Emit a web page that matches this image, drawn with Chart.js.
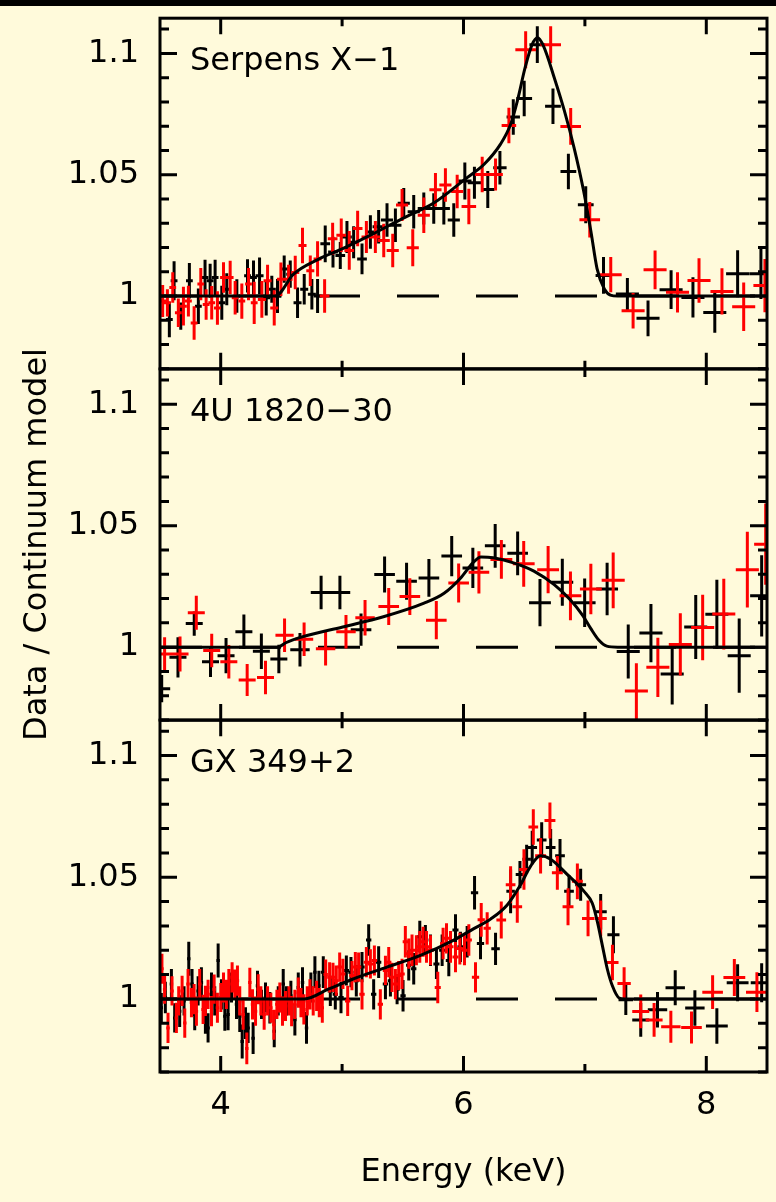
<!DOCTYPE html>
<html>
<head>
<meta charset="utf-8">
<script src="https://cdn.jsdelivr.net/npm/chart.js@4.4.1/dist/chart.umd.min.js"></script>
<style>
  html, body { margin: 0; padding: 0; background: #fffadb; }
  #page { position: relative; width: 776px; height: 1202px; background: #fffadb; overflow: hidden; }
  #topbar { position: absolute; left: 0; top: 0; width: 776px; height: 6px; background: #000; z-index: 5; }
  canvas { position: absolute; left: 0; }
</style>
</head>
<body>
<div id="page">
  <div id="topbar"></div>
  <canvas id="p1" width="776" height="431" style="top:-22px;width:776px;height:431px"></canvas>
  <canvas id="p2" width="776" height="691" style="top:199px;width:776px;height:691px"></canvas>
  <canvas id="p3" width="776" height="522" style="top:680px;width:776px;height:522px"></canvas>
</div>
<script>
// axis setup
const xRange = [3.5, 8.5];
const yRange = [0.97, 1.1145];
const xTickValues = [4, 6, 8];
const xTickLabels = ["4", "6", "8"];
const xMinorValues = [5, 7];
const yTickValues = [1, 1.05, 1.1];
const yTickLabels = ["1", "1.05", "1.1"];
const sourceNames = ["Serpens X\u22121", "4U 1820\u221230", "GX 349+2"];

// rows: [energy keV, ratio, half bin width, 1 sigma]
const serpensBlack = [
  [3.577, 0.9903, 0.028, 0.0073], [3.616, 1.0063, 0.028, 0.0080], [3.671, 0.9917, 0.028, 0.0056],
  [3.742, 1.0063, 0.028, 0.0073], [3.816, 0.9958, 0.028, 0.0073], [3.871, 1.0076, 0.028, 0.0073],
  [3.913, 1.0063, 0.028, 0.0070], [3.954, 1.0076, 0.028, 0.0073], [4.009, 0.9972, 0.028, 0.0070],
  [4.050, 1.0028, 0.028, 0.0066], [4.133, 1.0000, 0.028, 0.0069], [4.221, 1.0083, 0.028, 0.0069],
  [4.270, 1.0076, 0.028, 0.0070], [4.320, 1.0083, 0.033, 0.0076], [4.375, 0.9993, 0.033, 0.0073],
  [4.421, 1.0028, 0.033, 0.0056], [4.468, 1.0000, 0.033, 0.0070], [4.523, 1.0111, 0.033, 0.0056],
  [4.573, 1.0090, 0.033, 0.0056], [4.633, 0.9972, 0.033, 0.0063], [4.688, 1.0028, 0.033, 0.0063],
  [4.751, 1.0007, 0.033, 0.0063], [4.798, 1.0000, 0.033, 0.0070], [4.861, 1.0215, 0.040, 0.0076],
  [4.925, 1.0181, 0.040, 0.0063], [4.985, 1.0167, 0.040, 0.0056], [5.040, 1.0243, 0.040, 0.0066],
  [5.095, 1.0222, 0.040, 0.0066], [5.164, 1.0153, 0.040, 0.0063], [5.233, 1.0264, 0.040, 0.0069],
  [5.301, 1.0285, 0.050, 0.0069], [5.370, 1.0313, 0.050, 0.0069], [5.439, 1.0292, 0.050, 0.0069],
  [5.508, 1.0382, 0.050, 0.0063], [5.590, 1.0347, 0.050, 0.0069], [5.673, 1.0361, 0.050, 0.0066],
  [5.755, 1.0361, 0.050, 0.0063], [5.838, 1.0361, 0.050, 0.0066], [5.920, 1.0313, 0.050, 0.0069],
  [6.011, 1.0474, 0.055, 0.0076], [6.090, 1.0467, 0.055, 0.0066], [6.200, 1.0439, 0.055, 0.0076],
  [6.300, 1.0529, 0.055, 0.0069], [6.410, 1.0738, 0.055, 0.0073], [6.500, 1.0814, 0.065, 0.0073],
  [6.608, 1.1036, 0.065, 0.0076], [6.737, 1.0782, 0.065, 0.0073], [6.864, 1.0513, 0.065, 0.0073],
  [7.007, 1.0376, 0.065, 0.0076], [7.153, 1.0085, 0.065, 0.0076], [7.350, 1.0008, 0.095, 0.0066],
  [7.520, 0.9908, 0.095, 0.0074], [7.710, 1.0026, 0.095, 0.0080], [7.890, 0.9994, 0.095, 0.0083],
  [8.070, 0.9932, 0.095, 0.0083], [8.258, 1.0092, 0.095, 0.0097], [8.450, 1.0092, 0.095, 0.0104]
];
const serpensRed = [
  [3.522, 0.9979, 0.028, 0.0066], [3.561, 0.9972, 0.028, 0.0056], [3.605, 1.0035, 0.028, 0.0063],
  [3.651, 0.9931, 0.028, 0.0059], [3.693, 0.9958, 0.028, 0.0080], [3.734, 0.9979, 0.028, 0.0063],
  [3.781, 0.9889, 0.028, 0.0069], [3.836, 1.0049, 0.028, 0.0066], [3.880, 0.9965, 0.028, 0.0063],
  [3.926, 0.9972, 0.028, 0.0069], [3.973, 0.9951, 0.028, 0.0069], [4.023, 1.0076, 0.028, 0.0063],
  [4.078, 1.0076, 0.028, 0.0069], [4.119, 0.9993, 0.028, 0.0069], [4.174, 0.9979, 0.028, 0.0073],
  [4.229, 1.0049, 0.028, 0.0066], [4.276, 0.9972, 0.028, 0.0087], [4.339, 0.9986, 0.033, 0.0076],
  [4.386, 1.0063, 0.033, 0.0066], [4.441, 0.9951, 0.033, 0.0073], [4.496, 1.0069, 0.033, 0.0069],
  [4.559, 1.0069, 0.033, 0.0060], [4.614, 1.0097, 0.033, 0.0069], [4.674, 1.0208, 0.033, 0.0073],
  [4.738, 1.0104, 0.033, 0.0063], [4.798, 1.0153, 0.033, 0.0073], [4.856, 1.0000, 0.040, 0.0069],
  [4.922, 1.0236, 0.040, 0.0066], [4.993, 1.0250, 0.040, 0.0069], [5.059, 1.0188, 0.040, 0.0080],
  [5.128, 1.0278, 0.040, 0.0073], [5.200, 1.0243, 0.040, 0.0066], [5.274, 1.0243, 0.040, 0.0066],
  [5.343, 1.0229, 0.050, 0.0069], [5.417, 1.0188, 0.050, 0.0069], [5.494, 1.0375, 0.050, 0.0066],
  [5.582, 1.0199, 0.050, 0.0076], [5.673, 1.0333, 0.050, 0.0073], [5.769, 1.0438, 0.050, 0.0069],
  [5.851, 1.0458, 0.050, 0.0069], [5.948, 1.0431, 0.050, 0.0069], [6.044, 1.0369, 0.060, 0.0073],
  [6.154, 1.0501, 0.060, 0.0073], [6.264, 1.0501, 0.060, 0.0066], [6.374, 1.0703, 0.060, 0.0073],
  [6.512, 1.1015, 0.085, 0.0076], [6.718, 1.1036, 0.085, 0.0076], [6.883, 1.0699, 0.085, 0.0076],
  [7.040, 1.0314, 0.085, 0.0073], [7.213, 1.0088, 0.090, 0.0073], [7.397, 0.9939, 0.095, 0.0073],
  [7.578, 1.0108, 0.095, 0.0080], [7.763, 1.0015, 0.095, 0.0083], [7.940, 1.0064, 0.095, 0.0092],
  [8.129, 1.0019, 0.095, 0.0095], [8.308, 0.9956, 0.095, 0.0100], [8.483, 1.0043, 0.095, 0.0110]
];
const serpensModelE = [3.5, 4.45, 4.6, 4.8, 5.0, 5.25, 5.5, 5.755, 6.03, 6.17, 6.305, 6.39, 6.445, 6.51,
  6.565, 6.61, 6.66, 6.745, 6.83, 6.91, 6.99, 7.05, 7.10, 7.16, 7.21, 7.27, 8.5];
const serpensModelV = [1, 1, 1.009, 1.0150, 1.0194, 1.0255, 1.032, 1.0383, 1.0488, 1.0543, 1.0626, 1.071,
  1.0807, 1.0946, 1.1036, 1.1064, 1.1029, 1.0904, 1.0765, 1.0613, 1.0432, 1.0265, 1.0113, 1.0029, 1.0004, 1.0, 1.0];

const u1820Black = [
  [3.514, 0.9829, 0.070, 0.0056], [3.648, 0.9958, 0.070, 0.0083], [3.782, 1.0097, 0.070, 0.0050],
  [3.916, 0.9940, 0.070, 0.0063], [4.044, 0.9965, 0.070, 0.0073], [4.191, 1.0063, 0.070, 0.0071],
  [4.335, 0.9983, 0.070, 0.0073], [4.479, 0.9951, 0.070, 0.0059], [4.653, 0.9989, 0.080, 0.0069],
  [4.827, 1.0225, 0.085, 0.0069], [4.982, 1.0225, 0.085, 0.0069], [5.156, 1.0072, 0.085, 0.0066],
  [5.350, 1.0299, 0.085, 0.0074], [5.531, 1.0271, 0.085, 0.0076], [5.715, 1.0285, 0.085, 0.0078],
  [5.903, 1.0375, 0.085, 0.0083], [6.077, 1.0326, 0.085, 0.0083], [6.261, 1.0417, 0.085, 0.0090],
  [6.446, 1.0386, 0.085, 0.0090], [6.630, 1.0183, 0.090, 0.0097], [6.814, 1.0267, 0.090, 0.0097],
  [6.998, 1.0183, 0.090, 0.0100], [7.183, 1.0239, 0.090, 0.0108], [7.357, 0.9982, 0.095, 0.0111],
  [7.544, 1.0058, 0.095, 0.0120], [7.719, 0.9889, 0.095, 0.0125], [7.913, 1.0083, 0.095, 0.0132],
  [8.087, 1.0135, 0.095, 0.0142], [8.271, 0.9965, 0.095, 0.0153], [8.456, 1.0211, 0.095, 0.0167]
];
const u1820Red = [
  [3.538, 0.9972, 0.070, 0.0069], [3.665, 0.9972, 0.070, 0.0072], [3.799, 1.0142, 0.070, 0.0070],
  [3.926, 0.9986, 0.070, 0.0069], [4.067, 0.9940, 0.070, 0.0069], [4.218, 0.9865, 0.070, 0.0066],
  [4.369, 0.9875, 0.070, 0.0069], [4.526, 1.0049, 0.075, 0.0069], [4.687, 1.0032, 0.075, 0.0069],
  [4.864, 0.9993, 0.080, 0.0069], [5.032, 1.0063, 0.080, 0.0069], [5.189, 1.0121, 0.080, 0.0073],
  [5.384, 1.0167, 0.085, 0.0076], [5.558, 1.0208, 0.085, 0.0076], [5.776, 1.0111, 0.085, 0.0079],
  [5.960, 1.0264, 0.085, 0.0080], [6.127, 1.0308, 0.085, 0.0087], [6.312, 1.0361, 0.090, 0.0080],
  [6.496, 1.0343, 0.090, 0.0094], [6.697, 1.0319, 0.090, 0.0097], [6.881, 1.0211, 0.090, 0.0100],
  [7.049, 1.0239, 0.090, 0.0104], [7.233, 1.0275, 0.095, 0.0115], [7.424, 0.9819, 0.095, 0.0115],
  [7.601, 0.9917, 0.095, 0.0122], [7.786, 1.0011, 0.095, 0.0128], [7.970, 1.0081, 0.095, 0.0135],
  [8.144, 1.0136, 0.095, 0.0146], [8.338, 1.0319, 0.095, 0.0156], [8.489, 1.0424, 0.095, 0.0167]
];
const u1820ModelE = [3.5, 4.47, 4.536, 4.67, 5.005, 5.34, 5.675, 5.84, 5.977, 6.077, 6.144, 6.245, 6.412,
  6.58, 6.747, 6.881, 6.98, 7.049, 7.116, 7.18, 7.27, 8.5];
const u1820ModelV = [1, 1, 1.0018, 1.0042, 1.0083, 1.0125, 1.0181, 1.0222, 1.0285, 1.0347, 1.0371, 1.0368,
  1.0347, 1.0313, 1.0257, 1.0194, 1.0132, 1.0076, 1.0028, 1.0004, 1.0, 1.0];

const gxBlack = [
  [3.511, 0.9964, 0.014, 0.0060], [3.544, 1.0006, 0.014, 0.0065], [3.594, 1.0061, 0.014, 0.0062],
  [3.621, 0.9922, 0.014, 0.0060], [3.662, 0.9950, 0.014, 0.0065], [3.698, 0.9992, 0.014, 0.0060],
  [3.737, 1.0165, 0.014, 0.0070], [3.764, 1.0061, 0.014, 0.0062], [3.786, 0.9936, 0.014, 0.0065],
  [3.814, 1.0033, 0.014, 0.0060], [3.841, 1.0068, 0.014, 0.0062], [3.874, 0.9922, 0.014, 0.0065],
  [3.896, 0.9881, 0.014, 0.0060], [3.924, 1.0047, 0.014, 0.0062], [3.951, 0.9992, 0.014, 0.0060],
  [3.979, 1.0158, 0.014, 0.0070], [4.006, 1.0019, 0.014, 0.0062], [4.034, 0.9929, 0.014, 0.0060],
  [4.061, 0.9936, 0.014, 0.0065], [4.089, 1.0047, 0.014, 0.0062], [4.130, 0.9978, 0.014, 0.0060],
  [4.157, 0.9929, 0.014, 0.0065], [4.177, 0.9825, 0.014, 0.0070], [4.204, 0.9901, 0.014, 0.0065],
  [4.226, 0.9881, 0.014, 0.0062], [4.267, 0.9839, 0.014, 0.0065], [4.303, 1.0054, 0.014, 0.0062],
  [4.336, 0.9978, 0.014, 0.0060], [4.369, 1.0006, 0.014, 0.0062], [4.405, 0.9964, 0.014, 0.0065],
  [4.441, 0.9867, 0.014, 0.0065], [4.474, 0.9992, 0.014, 0.0060], [4.515, 1.0061, 0.014, 0.0062],
  [4.542, 0.9992, 0.014, 0.0060], [4.578, 1.0013, 0.014, 0.0062], [4.611, 0.9915, 0.014, 0.0065],
  [4.639, 1.0047, 0.014, 0.0062], [4.674, 1.0068, 0.014, 0.0062], [4.707, 0.9881, 0.014, 0.0065],
  [4.743, 1.0047, 0.014, 0.0062], [4.776, 1.0110, 0.014, 0.0065], [4.809, 1.0054, 0.014, 0.0062],
  [4.845, 1.0110, 0.020, 0.0065], [4.903, 1.0033, 0.022, 0.0062], [4.944, 1.0019, 0.022, 0.0062],
  [4.991, 1.0006, 0.022, 0.0065], [5.035, 1.0117, 0.022, 0.0062], [5.073, 1.0110, 0.022, 0.0062],
  [5.117, 1.0075, 0.022, 0.0065], [5.164, 1.0131, 0.022, 0.0062], [5.219, 1.0242, 0.022, 0.0065],
  [5.260, 1.0019, 0.022, 0.0062], [5.301, 1.0151, 0.022, 0.0065], [5.357, 1.0061, 0.022, 0.0062],
  [5.398, 1.0075, 0.022, 0.0065], [5.453, 1.0040, 0.022, 0.0062], [5.502, 1.0013, 0.022, 0.0065],
  [5.549, 1.0138, 0.022, 0.0062], [5.590, 1.0124, 0.022, 0.0065], [5.640, 1.0256, 0.025, 0.0065],
  [5.686, 1.0242, 0.025, 0.0062], [5.728, 1.0200, 0.025, 0.0065], [5.777, 1.0144, 0.025, 0.0062],
  [5.824, 1.0200, 0.025, 0.0065], [5.879, 1.0158, 0.025, 0.0065], [5.934, 1.0283, 0.025, 0.0065],
  [5.975, 1.0214, 0.025, 0.0062], [6.030, 1.0235, 0.025, 0.0065], [6.091, 1.0436, 0.030, 0.0069],
  [6.140, 1.0228, 0.030, 0.0065], [6.264, 1.0206, 0.035, 0.0066], [6.388, 1.0442, 0.035, 0.0090],
  [6.465, 1.0511, 0.035, 0.0056], [6.520, 1.0574, 0.035, 0.0059], [6.566, 1.0622, 0.040, 0.0069],
  [6.644, 1.0653, 0.040, 0.0073], [6.718, 1.0622, 0.040, 0.0076], [6.795, 1.0588, 0.040, 0.0069],
  [6.869, 1.0442, 0.040, 0.0066], [6.965, 1.0469, 0.045, 0.0066], [7.130, 1.0358, 0.050, 0.0073],
  [7.235, 1.0264, 0.050, 0.0076], [7.337, 0.9997, 0.060, 0.0063], [7.460, 0.9914, 0.070, 0.0069],
  [7.598, 0.9956, 0.080, 0.0073], [7.744, 1.0046, 0.080, 0.0072], [7.906, 0.9963, 0.080, 0.0073],
  [8.087, 0.9889, 0.090, 0.0073], [8.258, 1.0067, 0.090, 0.0076], [8.456, 1.0067, 0.090, 0.0080]
];
const gxRed = [
  [3.516, 1.0124, 0.014, 0.0062], [3.538, 1.0040, 0.014, 0.0060], [3.566, 0.9881, 0.014, 0.0062],
  [3.599, 1.0033, 0.014, 0.0060], [3.635, 0.9922, 0.014, 0.0062], [3.654, 0.9992, 0.014, 0.0060],
  [3.682, 1.0033, 0.014, 0.0062], [3.704, 0.9901, 0.014, 0.0060], [3.731, 1.0061, 0.014, 0.0062],
  [3.759, 0.9985, 0.014, 0.0060], [3.781, 0.9999, 0.014, 0.0062], [3.800, 0.9950, 0.014, 0.0060],
  [3.827, 1.0061, 0.014, 0.0062], [3.855, 0.9957, 0.014, 0.0060], [3.874, 0.9992, 0.014, 0.0062],
  [3.896, 1.0019, 0.014, 0.0060], [3.924, 0.9950, 0.014, 0.0062], [3.946, 1.0040, 0.014, 0.0060],
  [3.973, 0.9964, 0.014, 0.0062], [4.001, 1.0006, 0.014, 0.0060], [4.023, 1.0047, 0.014, 0.0062],
  [4.047, 1.0019, 0.014, 0.0060], [4.067, 1.0061, 0.014, 0.0062], [4.094, 1.0089, 0.014, 0.0062],
  [4.116, 1.0061, 0.014, 0.0060], [4.138, 1.0075, 0.014, 0.0062], [4.157, 0.9992, 0.014, 0.0060],
  [4.185, 0.9936, 0.014, 0.0062], [4.215, 0.9797, 0.014, 0.0065], [4.240, 1.0068, 0.014, 0.0060],
  [4.262, 0.9978, 0.014, 0.0062], [4.287, 0.9950, 0.014, 0.0060], [4.309, 1.0040, 0.014, 0.0062],
  [4.331, 0.9992, 0.014, 0.0060], [4.358, 0.9936, 0.014, 0.0062], [4.386, 0.9992, 0.014, 0.0060],
  [4.413, 0.9964, 0.014, 0.0062], [4.438, 0.9894, 0.014, 0.0062], [4.463, 0.9978, 0.014, 0.0060],
  [4.487, 1.0006, 0.014, 0.0062], [4.509, 0.9950, 0.014, 0.0060], [4.534, 0.9971, 0.014, 0.0062],
  [4.562, 0.9992, 0.014, 0.0060], [4.584, 0.9950, 0.014, 0.0062], [4.611, 0.9978, 0.014, 0.0060],
  [4.639, 1.0026, 0.014, 0.0062], [4.661, 0.9985, 0.014, 0.0060], [4.685, 0.9957, 0.014, 0.0062],
  [4.713, 0.9992, 0.014, 0.0060], [4.735, 1.0019, 0.014, 0.0062], [4.762, 0.9992, 0.014, 0.0060],
  [4.790, 1.0013, 0.014, 0.0062], [4.812, 0.9985, 0.014, 0.0060], [4.837, 0.9964, 0.014, 0.0062],
  [4.865, 1.0100, 0.018, 0.0062], [4.897, 1.0089, 0.020, 0.0062], [4.925, 1.0089, 0.020, 0.0060],
  [4.952, 1.0075, 0.020, 0.0062], [4.980, 1.0131, 0.020, 0.0060], [5.007, 1.0103, 0.020, 0.0062],
  [5.046, 0.9992, 0.022, 0.0062], [5.081, 1.0096, 0.022, 0.0060], [5.109, 1.0131, 0.022, 0.0062],
  [5.136, 1.0131, 0.022, 0.0060], [5.164, 1.0019, 0.022, 0.0062], [5.200, 1.0151, 0.022, 0.0062],
  [5.233, 1.0144, 0.022, 0.0060], [5.266, 1.0158, 0.022, 0.0062], [5.315, 0.9978, 0.022, 0.0062],
  [5.357, 1.0117, 0.022, 0.0060], [5.384, 1.0151, 0.022, 0.0062], [5.411, 1.0089, 0.022, 0.0060],
  [5.439, 1.0061, 0.022, 0.0062], [5.466, 1.0096, 0.022, 0.0060], [5.494, 1.0103, 0.022, 0.0062],
  [5.521, 1.0235, 0.022, 0.0065], [5.549, 1.0186, 0.022, 0.0062], [5.576, 1.0200, 0.022, 0.0065],
  [5.612, 1.0200, 0.025, 0.0062], [5.640, 1.0214, 0.025, 0.0065], [5.667, 1.0235, 0.025, 0.0062],
  [5.695, 1.0214, 0.025, 0.0065], [5.728, 1.0200, 0.025, 0.0062], [5.788, 1.0047, 0.025, 0.0065],
  [5.832, 1.0228, 0.025, 0.0065], [5.860, 1.0249, 0.025, 0.0062], [5.893, 1.0214, 0.025, 0.0065],
  [5.934, 1.0172, 0.025, 0.0062], [5.970, 1.0207, 0.025, 0.0065], [6.008, 1.0200, 0.025, 0.0062],
  [6.044, 1.0242, 0.025, 0.0065], [6.099, 1.0089, 0.030, 0.0062], [6.146, 1.0325, 0.030, 0.0069],
  [6.195, 1.0290, 0.030, 0.0066], [6.311, 1.0324, 0.040, 0.0076], [6.388, 1.0469, 0.040, 0.0076],
  [6.443, 1.0379, 0.040, 0.0066], [6.498, 1.0532, 0.040, 0.0083], [6.575, 1.0706, 0.040, 0.0073],
  [6.635, 1.0588, 0.045, 0.0073], [6.712, 1.0733, 0.045, 0.0074], [6.773, 1.0518, 0.045, 0.0069],
  [6.861, 1.0379, 0.045, 0.0076], [6.938, 1.0483, 0.045, 0.0073], [7.026, 1.0331, 0.050, 0.0073],
  [7.130, 1.0331, 0.050, 0.0073], [7.227, 1.0150, 0.050, 0.0073], [7.323, 1.0064, 0.055, 0.0066],
  [7.460, 0.9949, 0.070, 0.0069], [7.570, 0.9914, 0.070, 0.0069], [7.708, 0.9886, 0.080, 0.0066],
  [7.878, 0.9883, 0.085, 0.0066], [8.052, 1.0028, 0.085, 0.0069], [8.231, 1.0088, 0.090, 0.0076],
  [8.417, 1.0028, 0.090, 0.0082]
];
const gxModelE = [3.5, 4.69, 4.886, 5.09, 5.37, 5.645, 5.92, 6.085, 6.223, 6.36, 6.47, 6.553, 6.635, 6.718,
  6.856, 6.993, 7.061, 7.103, 7.144, 7.185, 7.227, 7.282, 7.33, 8.5];
const gxModelV = [1, 1, 1.004, 1.0082, 1.0131, 1.0179, 1.0242, 1.0289, 1.0328, 1.0386, 1.0469, 1.0546,
  1.0588, 1.0574, 1.0511, 1.0442, 1.0393, 1.0317, 1.0219, 1.0122, 1.0053, 1.0004, 1.0, 1.0];

const FONT = '"DejaVu Sans", sans-serif';
Chart.defaults.font.family = FONT;
Chart.defaults.color = "#000";

// turn [E, ratio, dE, err] rows into the two arm polylines of the crosses
function crossArms(rows) {
  const h = [], v = [];
  rows.forEach(([e, r, de, dr]) => {
    h.push({x: e - de, y: r}, {x: e + de, y: r}, {x: e, y: null});
    v.push({x: e, y: r - dr}, {x: e, y: r + dr}, {x: e, y: null});
  });
  return [h, v];
}

function armSet(points, color) {
  return {data: points, borderColor: color, borderWidth: 3, pointRadius: 0, spanGaps: false, clip: 0};
}

// box with inward ticks on all four sides, plus the source name
const framePlugin = {
  id: "frame",
  afterDatasetsDraw(chart, args, opts) {
    const {ctx, chartArea: a} = chart;
    const x = chart.scales.x, y = chart.scales.y;
    ctx.save();
    ctx.strokeStyle = "#000";
    ctx.lineWidth = 3;
    ctx.beginPath();
    const xTick = (v, len) => {
      const px = x.getPixelForValue(v);
      ctx.moveTo(px, a.bottom); ctx.lineTo(px, a.bottom - len);
      ctx.moveTo(px, a.top); ctx.lineTo(px, a.top + len);
    };
    xTickValues.forEach(v => xTick(v, 16));
    xMinorValues.forEach(v => xTick(v, 8));
    for (let k = 97; k <= 111; k++) {
      const py = y.getPixelForValue(k / 100);
      const len = k % 5 === 0 ? 17 : 9;
      ctx.moveTo(a.left, py); ctx.lineTo(a.left + len, py);
      ctx.moveTo(a.right, py); ctx.lineTo(a.right - len, py);
    }
    ctx.stroke();
    ctx.strokeRect(a.left, a.top, a.right - a.left, a.bottom - a.top);
    ctx.fillStyle = "#000";
    ctx.font = "32px " + FONT;
    ctx.textBaseline = "alphabetic";
    ctx.fillText(opts.label, a.left + 30, a.top + 52);
    ctx.restore();
  }
};

function makePanel(id, name, black, red, modelE, modelV, opts) {
  const [bh, bv] = crossArms(black);
  const [rh, rv] = crossArms(red);
  const model = modelE.map((e, i) => ({x: e, y: modelV[i]}));
  return new Chart(document.getElementById(id), {
    type: "line",
    data: {
      datasets: [
        {data: model, borderColor: "#000", borderWidth: 3, pointRadius: 0, cubicInterpolationMode: "monotone"},
        armSet(rh, "#ff0000"),
        armSet(rv, "#ff0000"),
        armSet(bh, "#000"),
        armSet(bv, "#000"),
        {data: [{x: xRange[0], y: 1}, {x: xRange[1], y: 1}], borderColor: "#000", borderWidth: 3,
         borderDash: [42, 37], pointRadius: 0}
      ]
    },
    options: {
      responsive: false,
      devicePixelRatio: 1,
      animation: false,
      events: [],
      layout: {autoPadding: false, padding: {top: opts.padTop, bottom: opts.padBottom, left: 0, right: 9}},
      plugins: {legend: {display: false}, tooltip: {enabled: false}, frame: {label: name}},
      scales: {
        x: {
          type: "linear", min: xRange[0], max: xRange[1],
          display: opts.showX,
          afterFit: s => { if (opts.showX) s.height = 130; },
          afterBuildTicks: s => { s.ticks = xTickValues.map(v => ({value: v})); },
          grid: {display: false, drawTicks: false},
          border: {display: false},
          ticks: {font: {size: 32}, padding: 14, maxRotation: 0, callback: (v, i) => xTickLabels[i]},
          title: {display: opts.showX, text: "Energy (keV)", font: {size: 32}, padding: {bottom: 10}}
        },
        y: {
          type: "linear", min: yRange[0], max: yRange[1],
          afterFit: s => { s.width = 160; },
          afterBuildTicks: s => { s.ticks = yTickValues.map(v => ({value: v})); },
          grid: {display: false, drawTicks: false},
          border: {display: false},
          ticks: {font: {size: 32}, padding: 21, callback: (v, i) => yTickLabels[i]},
          title: {display: opts.showY, text: "Data / Continuum model", font: {size: 32}, padding: {top: 18}}
        }
      }
    },
    plugins: [framePlugin]
  });
}

makePanel("p1", sourceNames[0], serpensBlack, serpensRed, serpensModelE, serpensModelV,
  {showX: false, showY: false, padTop: 40, padBottom: 40});
makePanel("p2", sourceNames[1], u1820Black, u1820Red, u1820ModelE, u1820ModelV,
  {showX: false, showY: true, padTop: 170, padBottom: 170});
makePanel("p3", sourceNames[2], gxBlack, gxRed, gxModelE, gxModelV,
  {showX: true, showY: false, padTop: 40, padBottom: 0});
</script>
</body>
</html>
